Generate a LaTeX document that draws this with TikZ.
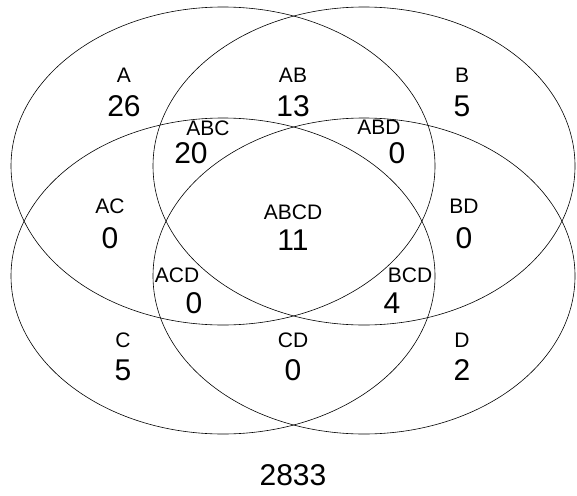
\documentclass[tikz,border=0pt]{standalone}
\usepackage{fontspec}
\setmainfont{Liberation Sans}
\usepackage{tikz}

\begin{document}
\begin{tikzpicture}[x=1pt, y=-1pt,
        lbl/.style={font=\fontsize{21}{23}\selectfont, inner sep=0pt},
        num/.style={font=\fontsize{30}{32}\selectfont, inner sep=0pt}]
        \useasboundingbox (0,0) rectangle (577,495);

        \draw[line width=0.6pt] (223,166) ellipse [x radius=212pt, y radius=159pt];
        \draw[line width=0.6pt] (364,166) ellipse [x radius=211pt, y radius=159pt];
        \draw[line width=0.6pt] (223,276) ellipse [x radius=212pt, y radius=158pt];
        \draw[line width=0.6pt] (364,276) ellipse [x radius=211pt, y radius=158pt];

        \node[lbl] (lA) at (124,75) {A};
        \node[num] (nA) at (124,106) {26};
        \node[lbl] (lAB) at (293,75) {AB};
        \node[num] (nAB) at (293,106) {13};
        \node[lbl] (lB) at (462,75) {B};
        \node[num] (nB) at (462,106) {5};

        \node[lbl] (lABC) at (208,128) {ABC};
        \node[num] (nABC) at (191,153) {20};
        \node[lbl] (lABD) at (379,127) {ABD};
        \node[num] (nABD) at (397,153) {0};

        \node[lbl] (lAC) at (110,206) {AC};
        \node[num] (nAC) at (110,238) {0};
        \node[lbl] (lABCD) at (293,212) {ABCD};
        \node[num] (nABCD) at (293,240) {11};
        \node[lbl] (lBD) at (464,206) {BD};
        \node[num] (nBD) at (464,238) {0};

        \node[lbl] (lACD) at (177,275) {ACD};
        \node[num] (nACD) at (194,303) {0};
        \node[lbl] (lBCD) at (410,275) {BCD};
        \node[num] (nBCD) at (392,303) {4};

        \node[lbl] (lC) at (123,340) {C};
        \node[num] (nC) at (123,370) {5};
        \node[lbl] (lCD) at (293,340) {CD};
        \node[num] (nCD) at (293,370) {0};
        \node[lbl] (lD) at (462,340) {D};
        \node[num] (nD) at (462,370) {2};

        \node[num] (total) at (293,475) {2833};
    \end{tikzpicture}
\end{document}
